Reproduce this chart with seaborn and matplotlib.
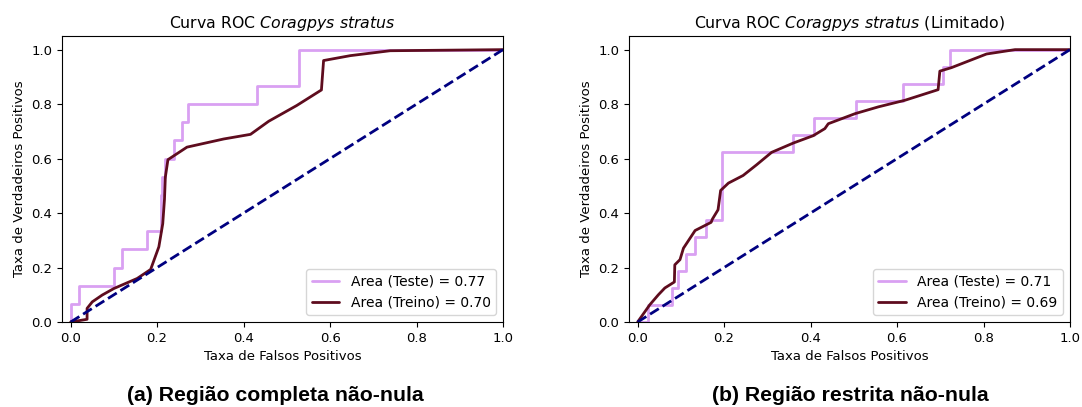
import matplotlib
matplotlib.use("Agg")
import matplotlib.pyplot as plt
import seaborn as sns
import pandas as pd

# curva completa
full_test_fpr = [0.0, 0.0, 0.019, 0.019, 0.1, 0.1, 0.119, 0.119, 0.177, 0.177, 0.208, 0.208,
                 0.212, 0.212, 0.219, 0.219, 0.239, 0.239, 0.258, 0.258, 0.271, 0.271,
                 0.431, 0.431, 0.529, 0.529, 1.0]
full_test_tpr = [0.0, 0.067, 0.067, 0.133, 0.133, 0.2, 0.2, 0.267, 0.267, 0.333, 0.333, 0.467,
                 0.467, 0.533, 0.533, 0.6, 0.6, 0.667, 0.667, 0.733, 0.733, 0.8,
                 0.8, 0.867, 0.867, 1.0, 1.0]
full_train_fpr = [0.0, 0.038, 0.038, 0.05, 0.073, 0.1, 0.154, 0.185, 0.204, 0.213, 0.217, 0.219,
                  0.225, 0.269, 0.354, 0.416, 0.458, 0.523, 0.58, 0.585, 0.647, 0.739, 1.0]
full_train_tpr = [0.0, 0.01, 0.05, 0.074, 0.099, 0.123, 0.16, 0.193, 0.276, 0.361, 0.45, 0.532,
                  0.596, 0.642, 0.672, 0.689, 0.737, 0.795, 0.852, 0.96, 0.978, 0.996, 1.0]

# curva limitada
lim_test_fpr = [0.0, 0.024, 0.024, 0.079, 0.079, 0.094, 0.094, 0.112, 0.112, 0.133, 0.133,
                0.158, 0.158, 0.196, 0.196, 0.359, 0.359, 0.408, 0.408, 0.504, 0.504,
                0.614, 0.614, 0.707, 0.707, 0.722, 0.722, 1.0]
lim_test_tpr = [0.0, 0.0, 0.0625, 0.0625, 0.125, 0.125, 0.1875, 0.1875, 0.25, 0.25, 0.3125,
                0.3125, 0.375, 0.375, 0.625, 0.625, 0.6875, 0.6875, 0.75, 0.75, 0.8125,
                0.8125, 0.875, 0.875, 0.9375, 0.9375, 1.0, 1.0]
lim_train_fpr = [0.0, 0.028, 0.048, 0.063, 0.085, 0.086, 0.098, 0.106, 0.133, 0.17, 0.173, 0.186,
                 0.192, 0.21, 0.244, 0.275, 0.31, 0.36, 0.406, 0.433, 0.441, 0.503, 0.557,
                 0.618, 0.695, 0.699, 0.726, 0.807, 0.873, 1.0]
lim_train_tpr = [0.0, 0.063, 0.1, 0.125, 0.147, 0.21, 0.229, 0.271, 0.336, 0.366, 0.378, 0.412,
                 0.483, 0.51, 0.538, 0.577, 0.623, 0.657, 0.684, 0.71, 0.728, 0.765, 0.79,
                 0.814, 0.853, 0.921, 0.934, 0.984, 1.0, 1.0]

panels = [
    ("Curva ROC $\\it{Coragpys}$ $\\it{stratus}$", full_test_fpr, full_test_tpr,
     full_train_fpr, full_train_tpr, 0.77, 0.70, "(a) Região completa não-nula"),
    ("Curva ROC $\\it{Coragpys}$ $\\it{stratus}$ (Limitado)", lim_test_fpr, lim_test_tpr,
     lim_train_fpr, lim_train_tpr, 0.71, 0.69, "(b) Região restrita não-nula"),
]

sns.set_style("ticks")
plt.rcParams["font.family"] = ["DejaVu Sans"]
plt.rcParams["mathtext.fontset"] = "dejavusans"
plt.rcParams["text.color"] = "black"
plt.rcParams["axes.labelcolor"] = "black"
plt.rcParams["xtick.color"] = "black"
plt.rcParams["ytick.color"] = "black"

fig = plt.figure(figsize=(10.82, 4.07), dpi=100)
axes_pos = [[0.0573, 0.2088, 0.4076, 0.7027], [0.5813, 0.2088, 0.4076, 0.7027]]
caption_x = [275 / 1082, 850 / 1082]

for pos, cx, (title, tf, tt, rf, rt, auc_t, auc_r, caption) in zip(axes_pos, caption_x, panels):
    ax = fig.add_axes(pos)
    test_df = pd.DataFrame({"fpr": tf, "tpr": tt})
    train_df = pd.DataFrame({"fpr": rf, "tpr": rt})
    sns.lineplot(data=test_df, x="fpr", y="tpr", sort=False, estimator=None, ax=ax,
                 color="#d9a0f2", lw=2, label=f"Area (Teste) = {auc_t:.2f}")
    sns.lineplot(data=train_df, x="fpr", y="tpr", sort=False, estimator=None, ax=ax,
                 color="#5e0c1e", lw=2, label=f"Area (Treino) = {auc_r:.2f}")
    ax.plot([0, 1], [0, 1], color="navy", lw=2, linestyle="--")
    ax.set_xlim(-0.02, 1.0)
    ax.set_ylim(0.0, 1.05)
    ax.set_xticks([0.0, 0.2, 0.4, 0.6, 0.8, 1.0])
    ax.set_yticks([0.0, 0.2, 0.4, 0.6, 0.8, 1.0])
    ax.tick_params(labelsize=9.5, length=3.5, width=0.8, color="black")
    for s in ax.spines.values():
        s.set_visible(True)
        s.set_color("black")
        s.set_linewidth(0.8)
    ax.set_xlabel("Taxa de Falsos Positivos", fontsize=9.5)
    ax.set_ylabel("Taxa de Verdadeiros Positivos", fontsize=9.5)
    ax.set_title(title, fontsize=11.3)
    ax.legend(loc="lower right", fontsize=10)
    fig.text(cx, 0.029, caption, ha="center", va="center", fontsize=15.3,
             fontweight="bold", family="Liberation Sans")

fig.savefig("out.png", dpi=100)
